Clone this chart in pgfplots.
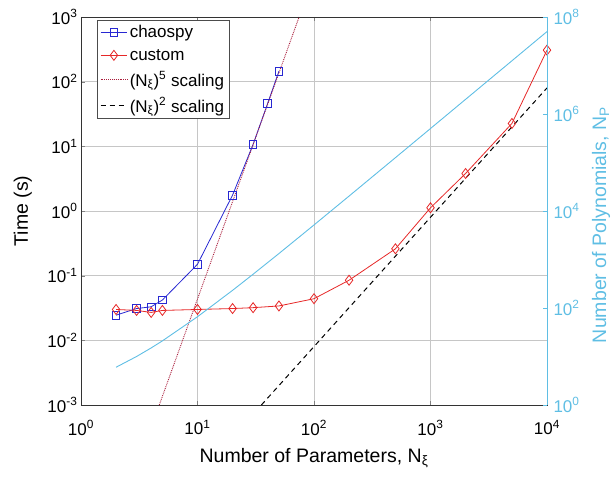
\documentclass[border=0pt]{standalone}
\usepackage{fontspec}
\setmainfont{Liberation Sans}
\usepackage{pgfplots}
\pgfplotsset{compat=1.18}
\usetikzlibrary{calc}
\definecolor{cy}{RGB}{95,190,228}
\definecolor{myblue}{RGB}{40,40,210}
\definecolor{myred}{RGB}{230,40,40}
\definecolor{dred}{RGB}{170,30,60}
\begin{document}
\begin{tikzpicture}
\begin{axis}[
  name=main,
  scale only axis, width=466pt, height=388pt,
  xmode=log, ymode=log, log basis x=10, log basis y=10,
  xmin=1, xmax=1e4,
  tick label style={font=\fontsize{17}{19}\selectfont},
  label style={font=\fontsize{19.5}{22}\selectfont},
  xticklabel={\pgfmathparse{int(round(\tick))}10\textsuperscript{\pgfmathresult}},
  yticklabel={\pgfmathparse{int(round(\tick))}10\textsuperscript{\pgfmathresult}},
  xticklabel style={yshift=-12pt},
  ymin=1e-3, ymax=1e3,
  xtick={1,10,100,1000,10000},
  ytick={1e-3,1e-2,1e-1,1,10,100,1000},
  ytick pos=left,
  grid=both,
  major grid style={gray!45},
  minor grid style={gray!25},
  axis line style={black!80},
  xlabel={Number of Parameters, N\textsubscript{ξ}},
  xlabel style={yshift=-6pt},
  ylabel={Time (s)},
  ylabel style={at={(axis description cs:-0.125,0.5)}, anchor=center},
  legend style={at={(0.034,0.992)}, anchor=north west, draw=black!70,
    font=\fontsize{17}{19}\selectfont, cells={anchor=west}, row sep=6pt,
    inner sep=3pt},
  legend image code/.code={\draw[mark repeat=2,mark phase=2] plot coordinates {(0cm,0cm) (0.47cm,0cm) (0.94cm,0cm)};},
  legend cell align=left,
]
\addplot[myblue, line width=0.8pt, mark=square, mark size=3.8pt, mark options={solid}]
  coordinates {(2,0.0245) (3,0.031) (4,0.033) (5,0.042) (10,0.15) (20,1.76) (30,10.7) (40,46) (50,145)};
\addlegendentry{chaospy}
\addplot[myred, line width=0.8pt, mark=diamond, mark size=5pt, mark options={solid}]
  coordinates {(2,0.030) (3,0.029) (4,0.027) (5,0.029) (10,0.030) (20,0.031) (30,0.032) (50,0.034) (100,0.044) (200,0.085) (500,0.26) (1000,1.12) (2000,3.8) (5000,22.6) (10000,307)};
\addlegendentry{custom}
\addplot[dred, line width=0.9pt, densely dotted]
  coordinates {(4.7,1e-3) (74.5,1e3)};
\addlegendentry{(N\textsubscript{ξ})\textsuperscript{5} scaling}
\addplot[black, line width=1pt, dash pattern=on 5pt off 4pt]
  coordinates {(35.36,1e-3) (10000,80)};
\addlegendentry{(N\textsubscript{ξ})\textsuperscript{2} scaling}
\end{axis}
\begin{axis}[
  scale only axis, width=466pt, height=388pt,
  xmode=log, ymode=log, log basis x=10, log basis y=10,
  xmin=1, xmax=1e4,
  ymin=1, ymax=1e8,
  tick label style={font=\fontsize{17}{19}\selectfont},
  label style={font=\fontsize{19.5}{22}\selectfont},
  yticklabel={\pgfmathparse{int(round(\tick))}10\textsuperscript{\pgfmathresult}},
  axis x line=none,
  axis y line*=right,
  ytick={1,1e2,1e4,1e6,1e8},
  y axis line style={cy},
  ytick style={cy},
  yticklabel style={cy, xshift=3pt},
  ylabel style={cy, at={(axis description cs:1.116,0.464)}, anchor=center},
  ylabel={Number of Polynomials, N\textsubscript{P}},
]
\addplot[cy, line width=0.9pt] coordinates {
(2,6) (3,10) (4,15) (5,21) (10,66) (20,231) (30,496) (50,1326) (100,5151) (200,20301) (500,125751) (1000,501501) (2000,2003001) (5000,12507501) (10000,50015001)};
\end{axis}
\pgfresetboundingbox
\path[use as bounding box] ($(main.south west)+(-81pt,-76pt)$) rectangle ($(main.north east)+(69pt,17pt)$);
\end{tikzpicture}
\end{document}
